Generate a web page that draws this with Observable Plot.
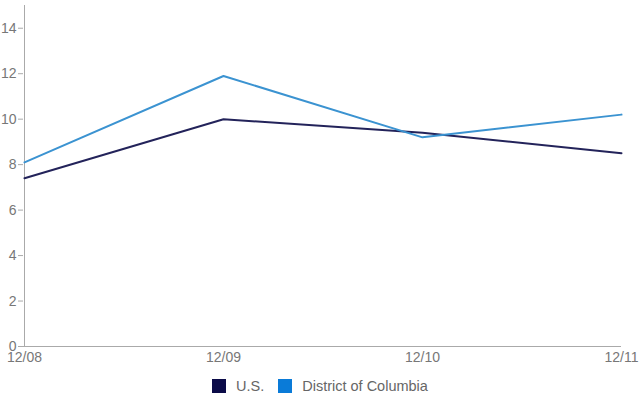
<!DOCTYPE html>
<html>
<head>
<meta charset="utf-8">
<script src="https://cdn.jsdelivr.net/npm/d3@7"></script>
<script src="https://cdn.jsdelivr.net/npm/@observablehq/plot@0.6"></script>
<style>
  body { margin: 0; background: #fff; font-family: "Liberation Sans", Arial, Helvetica, sans-serif; }
  #legend { display: flex; justify-content: flex-start; align-items: center; font-size: 14.5px; color: #666; height: 28px; padding-left: 212px; margin-top: 4px; }
  .item { display: flex; align-items: center; margin-right: 14px; }
  .sw { width: 14px; height: 14px; margin-right: 10px; }
</style>
</head>
<body>
<div id="chart"></div>
<div id="legend"></div>
<script>
const periods = ["12/08", "12/09", "12/10", "12/11"];
const seriesNames = ["U.S.", "District of Columbia"];
const usValues = [7.4, 10.0, 9.4, 8.5];
const dcValues = [8.1, 11.9, 9.2, 10.2];
const yTicks = [0, 2, 4, 6, 8, 10, 12, 14];
const lineColors = ["#23235a", "#3b93d1"];
const swatchColors = ["#0b0b48", "#0a7bd8"];

const data = [
  ...periods.map((p, i) => ({period: p, value: usValues[i], series: seriesNames[0]})),
  ...periods.map((p, i) => ({period: p, value: dcValues[i], series: seriesNames[1]}))
];

const chart = Plot.plot({
  width: 640,
  height: 368,
  marginLeft: 23,
  marginRight: 19,
  marginTop: 5,
  marginBottom: 22,
  style: {fontFamily: "'Liberation Sans', Arial, Helvetica, sans-serif", fontSize: "14px", color: "#777", overflow: "visible"},
  x: {type: "point", domain: periods, padding: 0},
  y: {domain: [0, 15]},
  color: {domain: seriesNames, range: lineColors},
  marks: [
    Plot.axisY({ticks: yTicks, tickSize: 5, tickPadding: 2, stroke: "#aaa", fill: "#777", fontSize: 14, label: null}),
    Plot.axisX({tickSize: 0, tickPadding: 6, fill: "#777", fontSize: 14, label: null}),
    Plot.ruleX([periods[0]], {y1: 0, y2: 15, stroke: "#aaa"}),
    Plot.ruleY([0], {stroke: "#aaa"}),
    Plot.line(data, {x: "period", y: "value", z: "series", stroke: "series", strokeWidth: 2})
  ]
});
document.getElementById("chart").appendChild(chart);

const legend = document.getElementById("legend");
seriesNames.forEach((name, i) => {
  const item = document.createElement("div");
  item.className = "item";
  const sw = document.createElement("div");
  sw.className = "sw";
  sw.style.background = swatchColors[i];
  const label = document.createElement("span");
  label.textContent = name;
  item.appendChild(sw);
  item.appendChild(label);
  legend.appendChild(item);
});
</script>
</body>
</html>
